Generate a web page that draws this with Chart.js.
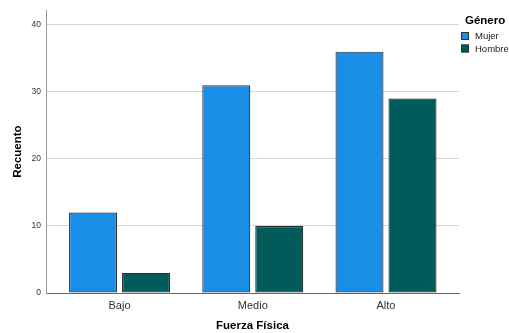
<!DOCTYPE html>
<html>
<head>
<meta charset="utf-8">
<script src="https://cdn.jsdelivr.net/npm/chart.js@4.4.1/dist/chart.umd.min.js"></script>
<style>
  html, body { margin: 0; padding: 0; background: #ffffff; }
  #wrap { width: 509px; height: 333px; position: relative; }
</style>
</head>
<body>
<div id="wrap"><canvas id="c" width="509" height="333"></canvas></div>
<script>
const categories = ['Bajo', 'Medio', 'Alto'];
const seriesNames = ['Mujer', 'Hombre'];
const mujerValues = [12, 31, 36];
const hombreValues = [3, 10, 29];
const yTickValues = [0, 10, 20, 30, 40];
const legendTitle = 'Género';
const xTitle = 'Fuerza Física';
const yTitle = 'Recuento';

const colors = ['#1a8ee6', '#005b5a'];
const FONT = '"Liberation Sans", Arial, sans-serif';

function toPoints(vals) { return vals.map((v, i) => ({ x: i, y: v })); }

const legendPlugin = {
  id: 'sideLegend',
  afterDraw(chart) {
    const ctx = chart.ctx;
    ctx.save();
    ctx.fillStyle = '#000';
    ctx.font = 'bold 11.5px ' + FONT;
    ctx.textAlign = 'left';
    ctx.textBaseline = 'middle';
    ctx.fillText(legendTitle, 465, 21);
    ctx.font = '9.5px ' + FONT;
    chart.data.datasets.forEach((ds, i) => {
      const y = 32 + i * 12.5;
      ctx.fillStyle = ds.backgroundColor;
      ctx.fillRect(461, y, 8, 8);
      ctx.strokeStyle = '#333';
      ctx.lineWidth = 1;
      ctx.strokeRect(461.5, y + 0.5, 7, 7);
      ctx.fillStyle = '#222';
      ctx.fillText(ds.label, 475, y + 4.5);
    });
    ctx.restore();
  }
};

new Chart(document.getElementById('c'), {
  type: 'bar',
  data: {
    datasets: [
      { label: seriesNames[0], data: toPoints(mujerValues), backgroundColor: colors[0], borderColor: '#2c3640', borderWidth: 1.2, borderSkipped: false },
      { label: seriesNames[1], data: toPoints(hombreValues), backgroundColor: colors[1], borderColor: '#263030', borderWidth: 1.2, borderSkipped: false }
    ]
  },
  options: {
    responsive: false,
    animation: false,
    devicePixelRatio: 1,
    categoryPercentage: 0.7955,
    barPercentage: 0.906,
    layout: { padding: { top: 8, right: 50, left: 0, bottom: 0 } },
    plugins: { legend: { display: false }, tooltip: { enabled: false } },
    scales: {
      x: {
        type: 'linear',
        offset: false,
        grace: 0,
        bounds: 'data',
        min: -0.552,
        max: 2.548,
        afterBuildTicks(scale) { scale.ticks = categories.map((c, i) => ({ value: i })); },
        afterFit(scale) { scale.height = 40; },
        ticks: {
          callback: (v) => categories[v] !== undefined ? categories[v] : '',
          font: { family: FONT, size: 11 },
          color: '#333',
          padding: 6,
          maxRotation: 0,
          autoSkip: false
        },
        grid: { display: true, drawOnChartArea: false, drawTicks: false, offset: false },
        border: { display: true, color: '#666', width: 1 },
        title: { display: true, text: xTitle, font: { family: FONT, size: 11.5, weight: 'bold' }, color: '#000', padding: { top: 0, bottom: 0 } }
      },
      y: {
        min: 0,
        max: 42.2,
        afterBuildTicks(scale) { scale.ticks = yTickValues.map(v => ({ value: v })); },
        afterFit(scale) { scale.width = 46; },
        ticks: {
          font: { family: '"Liberation Sans Narrow", "Liberation Sans", Arial, sans-serif', size: 8.5 },
          color: '#333',
          padding: 5
        },
        grid: { color: '#d6d6d6', drawTicks: false, lineWidth: 1 },
        border: { display: true, color: '#999', width: 1 },
        title: { display: true, text: yTitle, font: { family: FONT, size: 11.5, weight: 'bold' }, color: '#000', padding: { top: 11, bottom: 0 } }
      }
    }
  },
  plugins: [legendPlugin]
});
</script>
</body>
</html>
